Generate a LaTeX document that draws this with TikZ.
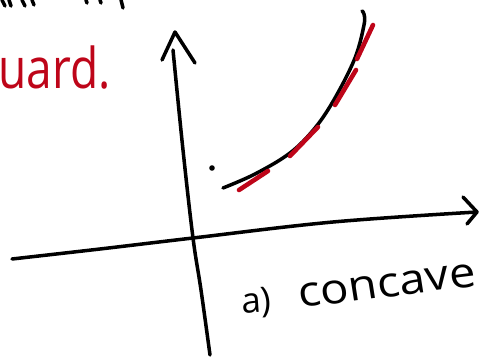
\documentclass[tikz,border=0pt]{standalone}
\usepackage{fontspec}
\setmainfont{Open Sans}
\definecolor{pen}{RGB}{190,5,25}
\begin{document}
\begin{tikzpicture}[x=0.02cm,y=-0.02cm,
  ink/.style={line width=2pt,line cap=round,line join=round,black},
  redink/.style={line width=2.6pt,line cap=round,pen}]
\useasboundingbox (0,0) rectangle (480,361);
% axes
\draw[ink] plot[smooth,tension=0.6] coordinates {(210,355) (201,290) (193,238) (183,150) (173,50)};
\draw[ink] (162,60) -- (175,32) -- (195,63);
\draw[ink] plot[smooth,tension=0.6] coordinates {(12,259) (100,249) (193,238) (333,222) (477,212)};
\draw[ink] (463,197) -- (477,212) -- (467,224);
% curve
\draw[ink] plot[smooth,tension=0.6] coordinates {(223,188) (255,174) (290,153) (315,128) (335,98) (355,58) (364,25) (364,14) (362,11)};
% red dashes
\draw[redink] (239,190) -- (268,171);
\draw[redink] (290,156) -- (318,127);
\draw[redink] (335,105) -- (356,70);
\draw[redink] (357,59) -- (373,25);
% dot
\fill (212,168) circle (2.8);
% cut-off marks at top
\draw[ink] (2,0) -- (5,6);
\draw[ink] (9,0) -- (11,6);
\draw[ink] (22,0) -- (25,6);
\draw[ink] (32,0) -- (34,5);
\draw[ink] (86,0) -- (87,3);
\draw[ink] (100,0) -- (101,3);
\draw[ink] (121,0) -- (123,8);
% texts
\node[anchor=base west,text=pen,font=\fontsize{32}{38}\selectfont,inner sep=0pt,xscale=0.82] (up) at (-2,89) {uard.};
\node[anchor=base west,font=\fontsize{20}{24}\selectfont,inner sep=0pt,rotate=4] (lab) at (242,314) {a)};
\node[anchor=base west,font=\fontsize{24}{28}\selectfont,inner sep=0pt,xscale=1.12,rotate=8] (conc) at (300,308) {concave};
\end{tikzpicture}
\end{document}
